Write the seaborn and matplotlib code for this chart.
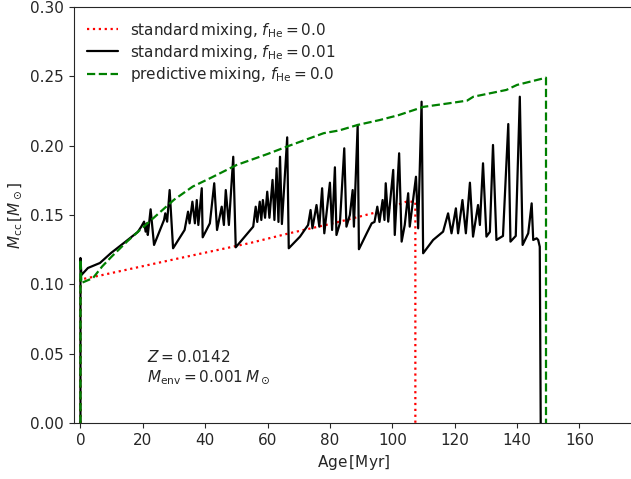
import numpy as np
import pandas as pd
import matplotlib
matplotlib.use("Agg")
import matplotlib.pyplot as plt
import seaborn as sns

# ---- data ----
red_age = [0, 0, 7, 30, 54.4, 67.3, 81, 95, 104.5, 107.4, 107.4]
red_mcc = [0, 0.1035, 0.1067, 0.118, 0.1298, 0.137, 0.144, 0.152, 0.1596, 0.1596, 0.0]

black_age = [0, 0, 0.3, 2.4, 6.25, 9.8, 14.3, 18.4, 19.5, 20.4, 20.9, 21.3, 21.6, 22.5, 23.6,
             26.8, 27.2, 27.8, 28.6, 29.7, 33.4, 34.5, 35.0, 35.9, 36.7, 37.3, 37.8, 38.9, 39.2,
             41.5, 42.9, 43.8, 45.3, 46.0, 46.6, 47.6, 49.0, 49.8, 55.4, 56.2, 56.7, 57.5, 58.0,
             58.5, 59.2, 59.9, 60.6, 61.6, 62.2, 62.9, 63.5, 64.0, 64.6, 66.3, 66.8, 70.4, 73.0,
             73.8, 74.4, 75.7, 76.6, 77.5, 78.2, 80.0, 80.7, 81.6, 82.1, 83.2, 84.6, 85.3, 86.4,
             87.3, 87.7, 88.9, 89.3, 91.8, 93.4, 94.3, 95.2, 95.9, 96.9, 97.5, 97.9, 98.7, 100.3,
             100.8, 102.2, 103.0, 104.0, 105.1, 105.6, 107.6, 108.3, 109.4, 109.9, 113.1, 116.3,
             117.9, 119.0, 120.4, 121.1, 122.5, 123.6, 124.9, 125.9, 127.5, 128.1, 129.1, 130.2,
             131.3, 132.3, 133.4, 135.5, 137.2, 137.9, 139.6, 140.9, 141.8, 143.6, 144.7, 145.2,
             146.3, 146.8, 147.3, 147.6]
black_mcc = [0, 0.119, 0.1067, 0.1118, 0.1154, 0.1226, 0.1305, 0.1378, 0.1416, 0.1452, 0.138,
             0.144, 0.1356, 0.1541, 0.1284, 0.1464, 0.1512, 0.1452, 0.168, 0.126, 0.1392, 0.1524,
             0.144, 0.1596, 0.144, 0.1608, 0.1428, 0.1693, 0.1339, 0.144, 0.1729, 0.1392, 0.156,
             0.1428, 0.168, 0.1428, 0.192, 0.1267, 0.1416, 0.156, 0.145, 0.1596, 0.1464, 0.1608,
             0.148, 0.1668, 0.148, 0.1753, 0.1464, 0.1837, 0.145, 0.192, 0.1435, 0.206, 0.126,
             0.1344, 0.1428, 0.1536, 0.1404, 0.1572, 0.1416, 0.1693, 0.1368, 0.1733, 0.1392,
             0.1844, 0.1356, 0.144, 0.1981, 0.1416, 0.15, 0.168, 0.1416, 0.2149, 0.1253, 0.1368,
             0.144, 0.145, 0.156, 0.145, 0.1608, 0.1464, 0.1729, 0.1452, 0.1825, 0.1356, 0.1945,
             0.1308, 0.1428, 0.1657, 0.1416, 0.1776, 0.1404, 0.2317, 0.1224, 0.132, 0.138, 0.1512,
             0.1368, 0.1548, 0.1368, 0.1608, 0.1368, 0.1733, 0.1344, 0.1572, 0.1428, 0.1873,
             0.1344, 0.1378, 0.2005, 0.132, 0.1349, 0.2156, 0.1308, 0.1349, 0.2353, 0.1284,
             0.1368, 0.1584, 0.132, 0.1332, 0.132, 0.1271, 0.0]

green_age = [0, 0, 0.3, 4, 7, 10, 15, 20, 25, 30, 36, 42, 50, 60, 67, 78, 83, 89, 96, 102, 106,
             110, 118, 124, 126, 136.6, 140, 149.3, 149.3]
green_mcc = [0, 0.118, 0.101, 0.1045, 0.113, 0.12, 0.131, 0.141, 0.151, 0.161, 0.1705, 0.177,
             0.186, 0.194, 0.2, 0.209, 0.211, 0.215, 0.2185, 0.222, 0.225, 0.228, 0.2305, 0.2325,
             0.2353, 0.2402, 0.2438, 0.249, 0.0]

labels = [r"standard$\,$mixing, $f_{\rm He} = 0.0$",
          r"standard$\,$mixing, $f_{\rm He} = 0.01$",
          r"predictive$\,$mixing, $f_{\rm He} = 0.0$"]

sns.set_style("ticks")
plt.rcParams["font.family"] = ["DejaVu Sans"]
plt.rcParams["mathtext.fontset"] = "dejavusans"

fig = plt.figure(figsize=(6.31, 4.79), dpi=100)
ax = fig.add_axes([73.6 / 631, 1 - 423 / 479, 559.4 / 631, 416 / 479])

df_r = pd.DataFrame({"age": red_age, "mcc": red_mcc})
df_b = pd.DataFrame({"age": black_age, "mcc": black_mcc})
df_g = pd.DataFrame({"age": green_age, "mcc": green_mcc})

sns.lineplot(data=df_r, x="age", y="mcc", sort=False, estimator=None, ax=ax,
             color="red", linestyle=":", linewidth=1.6, label=labels[0])
sns.lineplot(data=df_b, x="age", y="mcc", sort=False, estimator=None, ax=ax,
             color="black", linestyle="-", linewidth=1.6, label=labels[1])
sns.lineplot(data=df_g, x="age", y="mcc", sort=False, estimator=None, ax=ax,
             color="green", linestyle="--", linewidth=1.6, label=labels[2])

ax.set_xlim(-2.2, 177.2)
ax.set_ylim(0, 0.30)
ax.set_xticks([0, 20, 40, 60, 80, 100, 120, 140, 160])
ax.set_yticks([0.0, 0.05, 0.10, 0.15, 0.20, 0.25, 0.30])
ax.yaxis.set_major_formatter(matplotlib.ticker.FormatStrFormatter("%.2f"))
ax.set_xlabel(r"Age$\,$[Myr]", fontsize=11)
ax.set_ylabel(r"$M_{\rm cc}\,[M_\odot]$", fontsize=11)
ax.tick_params(labelsize=11)
for s in ax.spines.values():
    s.set_visible(True)

ax.legend(loc="upper left", frameon=False, fontsize=11, handlelength=2.0,
          borderaxespad=0.5, labelspacing=0.2)

ax.text(21.3, 0.0476, r"$Z = 0.0142$", fontsize=11, va="center", ha="left")
ax.text(21.3, 0.0330, r"$M_{\rm env} = 0.001\,M_\odot$", fontsize=11, va="center", ha="left")

fig.savefig("out.png", dpi=100)
